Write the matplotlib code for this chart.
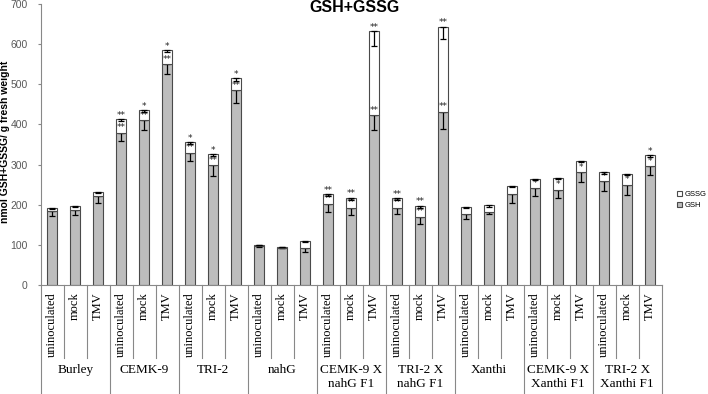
import numpy as np
import matplotlib
matplotlib.use("Agg")
import matplotlib.pyplot as plt

groups = ["Burley", "CEMK-9", "TRI-2", "nahG", "CEMK-9 X\nnahG F1", "TRI-2 X\nnahG F1",
          "Xanthi", "CEMK-9 X\nXanthi F1", "TRI-2 X\nXanthi F1"]
treatments = ["uninoculated", "mock", "TMV"]

gsh = [185, 188, 222, 380, 410, 550, 330, 298, 485, 97, 93, 91,
       203, 193, 423, 192, 170, 432, 176, 181, 227, 241, 238, 281, 258, 249, 296]
gssg = [8, 10, 11, 34, 27, 35, 26, 29, 30, 3, 2, 18,
        23, 25, 209, 25, 28, 212, 19, 18, 20, 23, 28, 28, 23, 28, 27]
gsh_err = [13, 14, 18, 21, 23, 23, 21, 27, 32, 3, 2, 8,
           21, 19, 37, 15, 19, 44, 12, 5, 22, 19, 22, 24, 23, 25, 23]
gssg_err = [3, 4, 4, 5, 5, 4, 5, 5, 6, 1, 1, 3,
            5, 5, 37, 5, 5, 32, 2, 5, 2, 2, 2, 3, 4, 3, 5]
top_marks = ["", "", "", "**", "*", "*", "*", "*", "*", "", "", "",
             "**", "**", "**", "**", "**", "**", "", "", "", "", "", "", "", "", "*"]
mid_marks = ["", "", "", "**", "**", "**", "**", "**", "**", "", "", "",
             "**", "**", "**", "**", "**", "**", "", "", "", "*", "*", "*", "*", "*", "*"]

gsh = np.array(gsh)
gssg = np.array(gssg)
x = np.arange(len(gsh))

plt.rcParams["font.family"] = ["Liberation Sans", "DejaVu Sans"]

fig = plt.figure(figsize=(7.08, 3.94), dpi=100)
ax = fig.add_axes([0.0575, 0.2766, 0.877, 0.713])

w = 0.43
ekw = dict(ecolor="black", elinewidth=0.9, capsize=2, capthick=0.9)
ax.bar(x, gsh, w, color="#bdbdbd", edgecolor="#4a4a4a", linewidth=0.8, label="GSH",
       yerr=[gsh_err, np.zeros(len(x))], error_kw=ekw, zorder=2)
ax.bar(x, gssg, w, bottom=gsh, color="white", edgecolor="#4a4a4a", linewidth=0.8,
       label="GSSG", yerr=[gssg_err, np.zeros(len(x))], error_kw=ekw, zorder=3)

for i in x:
    if top_marks[i]:
        ax.text(i, gsh[i] + gssg[i] + 9, top_marks[i], ha="center", va="center",
                fontsize=6.5, color="#222222", family="DejaVu Sans")
    if mid_marks[i]:
        ym = min(gsh[i] + gssg[i] / 2, gsh[i] + 13)
        ax.text(i, ym, mid_marks[i], ha="center", va="center", fontsize=6.5,
                color="#222222", family="DejaVu Sans")

ax.set_xlim(-0.5, len(x) - 0.5)
ax.set_ylim(0, 700)
ax.set_yticks(range(0, 701, 100))
ax.tick_params(axis="y", labelsize=7.5, labelcolor="#595959", color="#888888", length=2.5, pad=7)
ax.set_xticks([])
for s in ["top", "right"]:
    ax.spines[s].set_visible(False)
for s in ["left", "bottom"]:
    ax.spines[s].set_color("#888888")
ax.set_ylabel("nmol GSH+GSSG/ g fresh weight", fontsize=7.5, fontweight="bold")
ax.yaxis.set_label_coords(-0.049, 0.51)

# category axis boxes
tr = ax.get_xaxis_transform()
inner_bot = -0.26
outer_bot = -0.40
for b in range(len(x) + 1):
    xb = b - 0.5
    yb = outer_bot if b % 3 == 0 else inner_bot
    ax.plot([xb, xb], [0, yb], transform=tr, color="#888888", lw=0.8, clip_on=False)
for i in x:
    ax.text(i, -0.025, treatments[i % 3], transform=tr, rotation=90, ha="center", va="top",
            fontsize=9, family="Liberation Serif")
for g, name in enumerate(groups):
    ax.text(3 * g + 1, -0.282, name, transform=tr, ha="center", va="top",
            fontsize=9.5, family="Liberation Serif", linespacing=1.25)

fig.text(0.5, 0.981, "GSH+GSSG", ha="center", va="center", fontsize=11.5, fontweight="bold")

h, l = ax.get_legend_handles_labels()
fig.legend(h[::-1], l[::-1], loc="upper left", bbox_to_anchor=(677 / 708, 1 - 191 / 394),
           frameon=False, fontsize=5.5, handlelength=0.7, handleheight=0.7, handletextpad=0.3,
           labelspacing=0.45, borderpad=0, borderaxespad=0)

fig.savefig("out.png", dpi=100)
